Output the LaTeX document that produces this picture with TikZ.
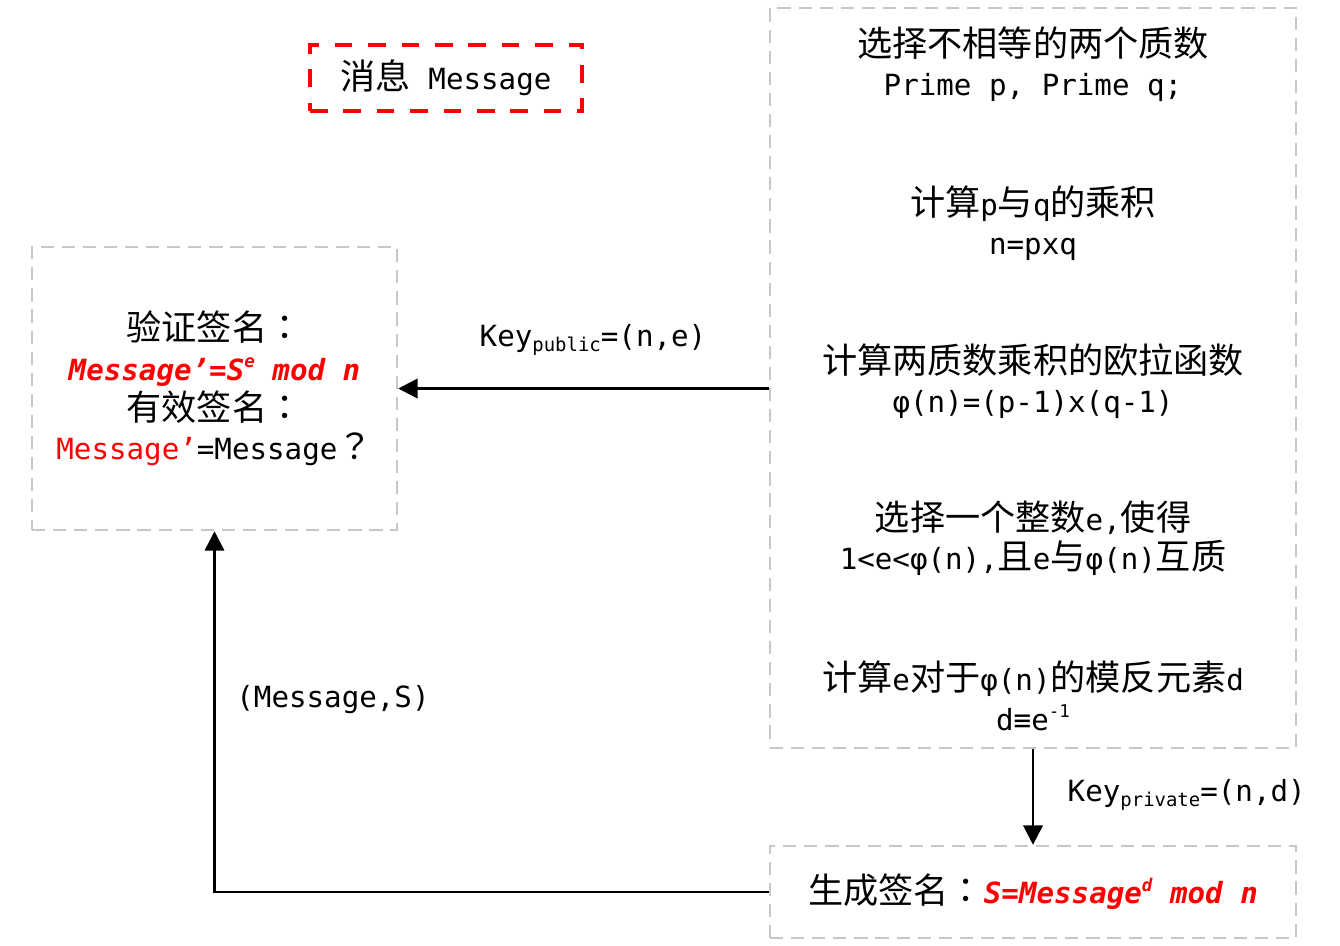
\documentclass[tikz,border=0pt]{standalone}
\usepackage{fontspec}
\setmainfont{DejaVu Sans Mono}[Scale=0.83]
\newfontfamily\zhfont{Noto Sans CJK SC}
\newfontfamily\zhpunct{Noto Sans CJK TC}
\usepackage{xcolor}
\usepackage{tikz}
\usetikzlibrary{arrows.meta,positioning,calc}
\definecolor{boxgray}{RGB}{200,200,200}
\newcommand{\zh}[1]{{\zhfont #1}}
\newcommand{\zp}[1]{{\zhpunct #1}}
\newcommand{\suptxt}[1]{\raisebox{0.8ex}{\fontsize{12}{12}\selectfont #1}}
\newcommand{\subtxt}[1]{\raisebox{-0.35ex}{\fontsize{13}{13}\selectfont #1}}
\tikzstyle{graybox} = [draw=boxgray, line width=1.4pt, dash pattern=on 7.5pt off 4.5pt]
\tikzstyle{redbox} = [draw=red, line width=1.8pt, dash pattern=on 10pt off 9pt]
\tikzstyle{flow} = [line width=1.5pt, -{Triangle[length=11pt,width=11pt]}]
\tikzstyle{txt} = [align=center, inner sep=0pt]

\begin{document}
\begin{tikzpicture}[font=\fontsize{20}{22.5}\selectfont]
    \useasboundingbox (0,0) rectangle (26.8,-18.9);
    % message
    \node[redbox, minimum width=5.44cm, minimum height=1.32cm] (msg) at (8.92,-1.56) {\zh{消息} Message};
    % verification
    \node[graybox, txt, minimum width=7.3cm, minimum height=5.66cm] (verify) at (4.29,-7.77)
        {\zh{验证签名}\zp{：}\\
         \textcolor{red}{\bfseries\itshape Message’=S\suptxt{e} mod n}\\
         \zh{有效签名}\zp{：}\\
         \textcolor{red}{Message’}=Message\zp{？}};
    % key generation
    \node[graybox, minimum width=10.52cm, minimum height=14.8cm] (keygen) at (20.66,-7.56) {};
    \node[txt] (s1) at (20.66,-1.28) {\zh{选择不相等的两个质数}\\Prime p, Prime q;};
    \node[txt] (s2) at (20.66,-4.46) {\zh{计算}p\zh{与}q\zh{的乘积}\\n=pxq};
    \node[txt] (s3) at (20.66,-7.62) {\zh{计算两质数乘积的欧拉函数}\\φ(n)=(p-1)x(q-1)};
    \node[txt] (s4) at (20.66,-10.76) {\zh{选择一个整数}e,\zh{使得}\\1<e<φ(n),\zh{且}e\zh{与}φ(n)\zh{互质}};
    \node[txt] (s5) at (20.66,-13.92) {\zh{计算}e\zh{对于}φ(n)\zh{的模反元素}d\\d≡e\suptxt{-1}};
    % signing
    \node[graybox, minimum width=10.52cm, minimum height=1.84cm] (sign) at (20.66,-17.84)
        {\zh{生成签名}\zp{：}\textcolor{red}{\bfseries\itshape S=Message\suptxt{d} mod n}};
    % connectors
    \draw[flow] (keygen.west |- verify.east) -- (verify.east);
    \node (pubkey) at (11.86,-6.8) {Key\subtxt{public}=(n,e)};
    \draw[flow] (keygen.south) -- (sign.north);
    \node[anchor=west] (privkey) at (21.25,-15.9) {Key\subtxt{private}=(n,d)};
    \draw[flow] (sign.west) -| (verify.south);
    \node (pair) at (6.66,-14.0) {(Message,S)};
\end{tikzpicture}
\end{document}
